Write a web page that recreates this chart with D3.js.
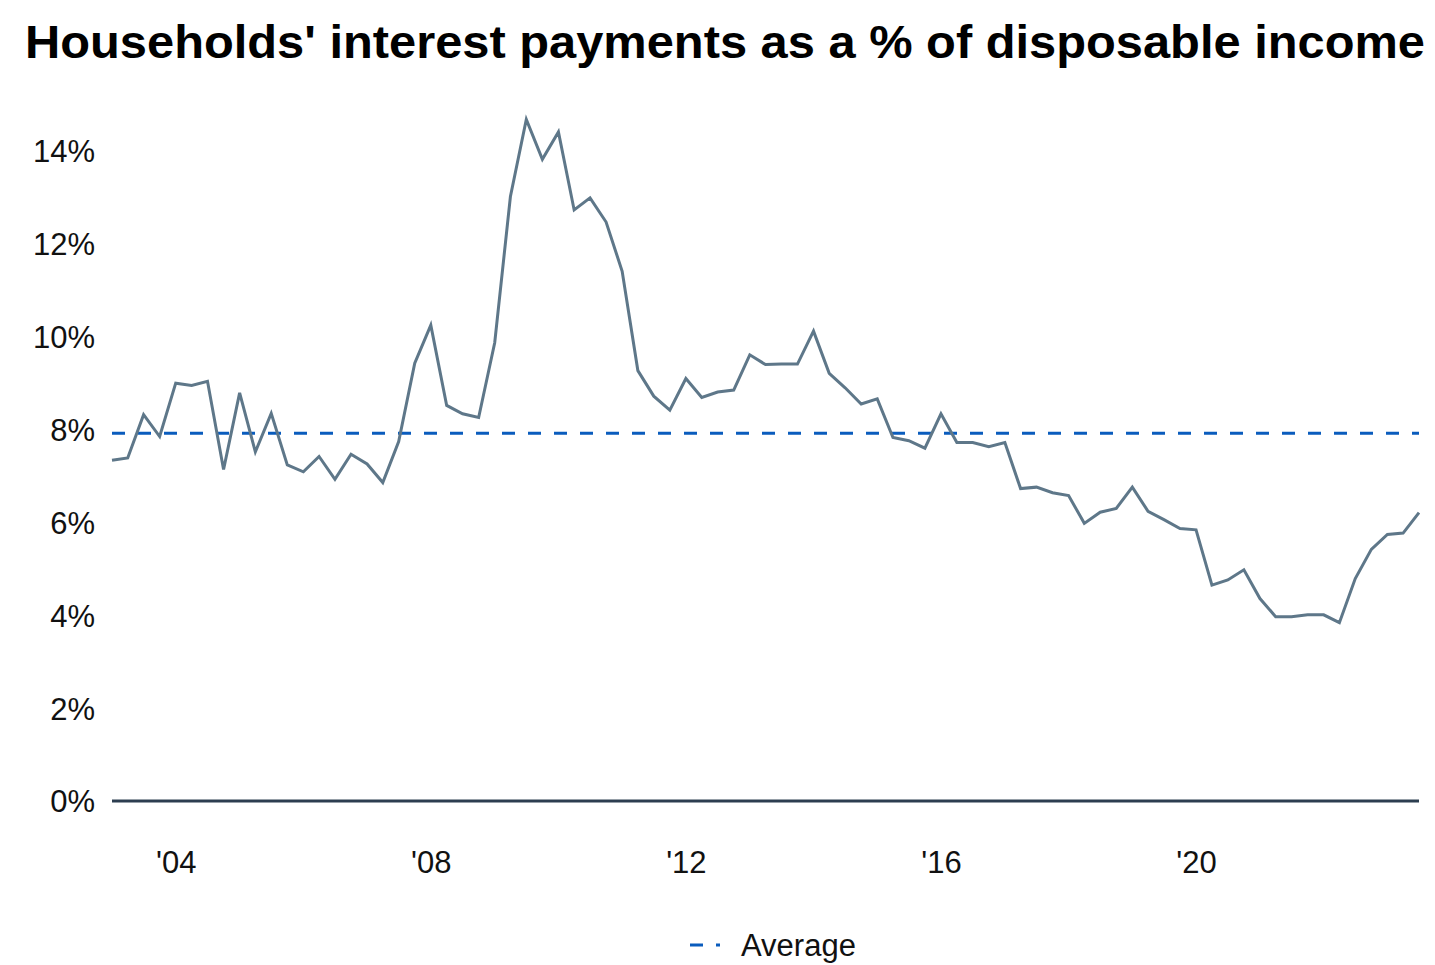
<!DOCTYPE html>
<html>
<head>
<meta charset="utf-8">
<script src="https://cdn.jsdelivr.net/npm/d3@7"></script>
<style>
  html, body { margin: 0; padding: 0; background: #ffffff; }
  svg { display: block; }
</style>
</head>
<body>
<svg id="chart" width="1435" height="965"></svg>
<script>
// ---- Data (quarterly) ----
const quarters = [
  "2003Q1","2003Q2","2003Q3","2003Q4","2004Q1","2004Q2","2004Q3","2004Q4",
  "2005Q1","2005Q2","2005Q3","2005Q4","2006Q1","2006Q2","2006Q3","2006Q4",
  "2007Q1","2007Q2","2007Q3","2007Q4","2008Q1","2008Q2","2008Q3","2008Q4",
  "2009Q1","2009Q2","2009Q3","2009Q4","2010Q1","2010Q2","2010Q3","2010Q4",
  "2011Q1","2011Q2","2011Q3","2011Q4","2012Q1","2012Q2","2012Q3","2012Q4",
  "2013Q1","2013Q2","2013Q3","2013Q4","2014Q1","2014Q2","2014Q3","2014Q4",
  "2015Q1","2015Q2","2015Q3","2015Q4","2016Q1","2016Q2","2016Q3","2016Q4",
  "2017Q1","2017Q2","2017Q3","2017Q4","2018Q1","2018Q2","2018Q3","2018Q4",
  "2019Q1","2019Q2","2019Q3","2019Q4","2020Q1","2020Q2","2020Q3","2020Q4",
  "2021Q1","2021Q2","2021Q3","2021Q4","2022Q1","2022Q2","2022Q3","2022Q4",
  "2023Q1","2023Q2","2023Q3"
];
const interestShare = [
  7.34, 7.39, 8.32, 7.85, 9.00, 8.95, 9.04, 7.14,
  8.79, 7.52, 8.35, 7.24, 7.09, 7.42, 6.93, 7.47,
  7.26, 6.86, 7.74, 9.43, 10.25, 8.52, 8.34, 8.26,
  9.87, 13.02, 14.68, 13.82, 14.41, 12.73, 12.99, 12.47,
  11.41, 9.27, 8.72, 8.42, 9.10, 8.69, 8.81, 8.85,
  9.61, 9.40, 9.41, 9.41, 10.12, 9.21, 8.90, 8.55,
  8.66, 7.83, 7.76, 7.60, 8.34, 7.72, 7.72, 7.63,
  7.72, 6.73, 6.76, 6.64, 6.58, 5.98, 6.22, 6.30,
  6.76, 6.24, 6.06, 5.87, 5.84, 4.65, 4.76, 4.98,
  4.36, 3.97, 3.97, 4.01, 4.01, 3.84, 4.79, 5.42,
  5.74, 5.77, 6.21
];
const averageValue = 7.92;
const yTicks = [0, 2, 4, 6, 8, 10, 12, 14];
const xTickYears = [2004, 2008, 2012, 2016, 2020];
const titleText = "Households' interest payments as a % of disposable income";
const legendLabel = "Average";

// ---- Build ----
const parseQ = s => new Date(+s.slice(0, 4), (+s.slice(5) - 1) * 3, 1);
const data = quarters.map((q, i) => ({ date: parseQ(q), value: interestShare[i] }));

const svg = d3.select("#chart");
const font = "'Liberation Sans', Arial, Helvetica, sans-serif";

const x = d3.scaleTime()
  .domain(d3.extent(data, d => d.date))
  .range([112, 1419]);
const y = d3.scaleLinear()
  .domain([0, 14])
  .range([801, 151]);

// Title
svg.append("text")
  .attr("x", 25).attr("y", 58)
  .attr("font-family", font)
  .attr("font-weight", "bold")
  .attr("font-size", 46)
  .attr("textLength", 1400)
  .attr("lengthAdjust", "spacingAndGlyphs")
  .attr("fill", "#000")
  .text(titleText);

// Y axis
const yAxis = d3.axisLeft(y)
  .tickValues(yTicks)
  .tickSize(0)
  .tickPadding(0)
  .tickFormat(d => d + "%");
const yg = svg.append("g").attr("transform", "translate(95,0)").call(yAxis);
yg.select(".domain").remove();
yg.selectAll("text")
  .attr("font-family", font)
  .attr("font-size", 31)
  .attr("fill", "#111")
  .attr("dy", "0.35em");

// X axis
const xAxis = d3.axisBottom(x)
  .tickValues(xTickYears.map(yr => new Date(yr, 0, 1)))
  .tickSize(0)
  .tickPadding(0)
  .tickFormat(d3.timeFormat("'%y"));
const xg = svg.append("g").attr("transform", "translate(0,862)").call(xAxis);
xg.select(".domain").remove();
xg.selectAll("text")
  .attr("font-family", font)
  .attr("font-size", 31)
  .attr("fill", "#111")
  .attr("dy", "0.35em");

// Zero baseline
svg.append("line")
  .attr("x1", x.range()[0]).attr("x2", x.range()[1])
  .attr("y1", y(0)).attr("y2", y(0))
  .attr("stroke", "#2c3e50")
  .attr("stroke-width", 3);

// Average dashed line
svg.append("line")
  .attr("x1", x.range()[0]).attr("x2", x.range()[1])
  .attr("y1", y(averageValue)).attr("y2", y(averageValue))
  .attr("stroke", "#0a5cbd")
  .attr("stroke-width", 3)
  .attr("stroke-dasharray", "13,13");

// Series line
const line = d3.line().x(d => x(d.date)).y(d => y(d.value));
svg.append("path")
  .datum(data)
  .attr("d", line)
  .attr("fill", "none")
  .attr("stroke", "#5e7789")
  .attr("stroke-width", 3)
  .attr("stroke-linejoin", "miter");

// Legend
const lg = svg.append("g").attr("transform", "translate(690,945)");
lg.append("line")
  .attr("x1", 0).attr("x2", 30).attr("y1", 0).attr("y2", 0)
  .attr("stroke", "#0a5cbd")
  .attr("stroke-width", 3)
  .attr("stroke-dasharray", "13,13");
lg.append("text")
  .attr("x", 51).attr("y", 0)
  .attr("dy", "0.35em")
  .attr("font-family", font)
  .attr("font-size", 31)
  .attr("fill", "#111")
  .text(legendLabel);
</script>
</body>
</html>
